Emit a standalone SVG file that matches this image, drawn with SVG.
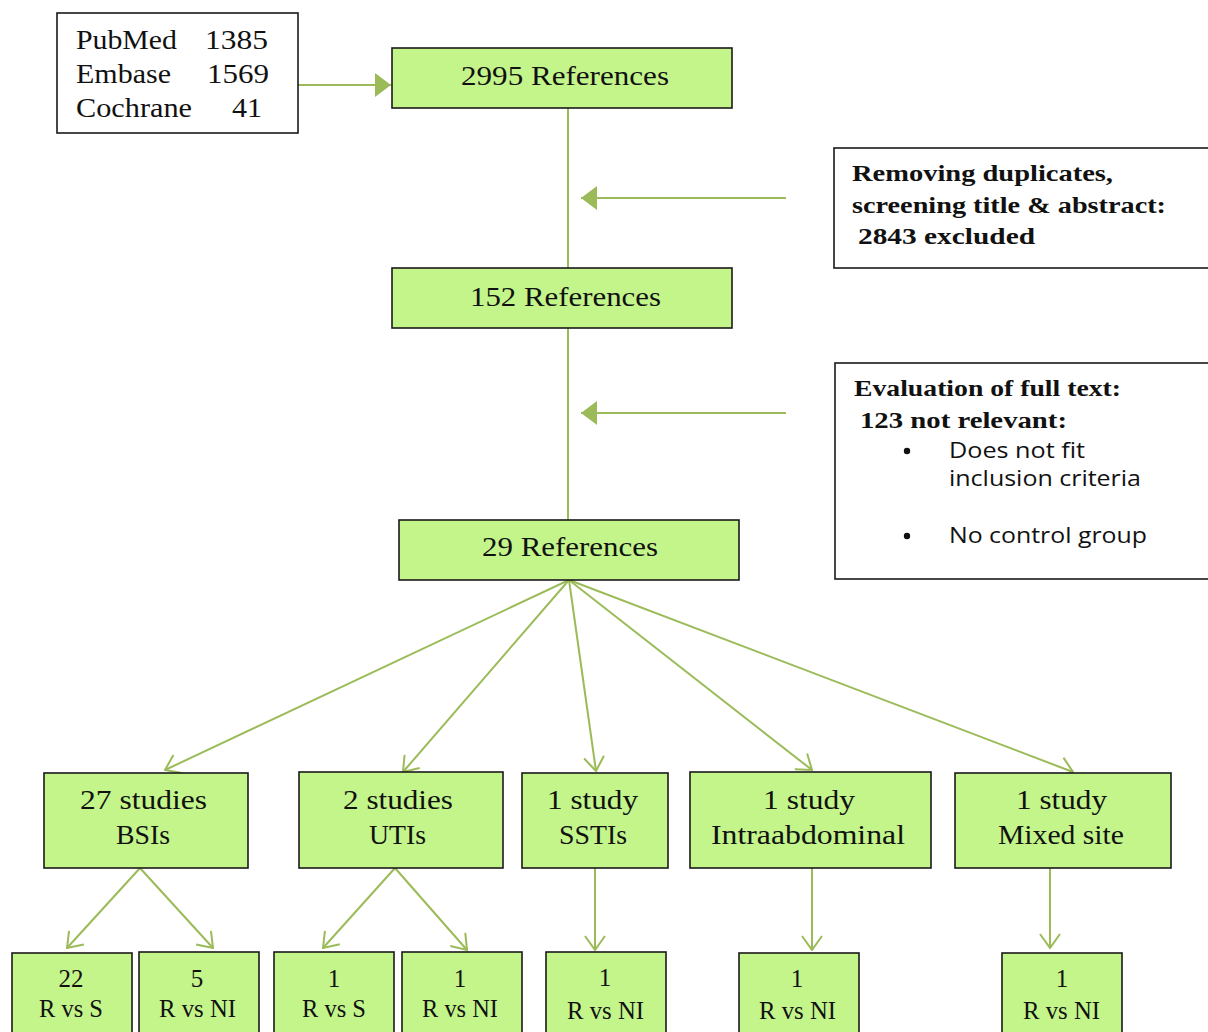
<svg xmlns="http://www.w3.org/2000/svg" width="1208" height="1032" viewBox="0 0 1208 1032">
<defs>
<marker id="fill" viewBox="0 0 16 24" refX="16" refY="12" markerWidth="16" markerHeight="24" markerUnits="userSpaceOnUse" orient="auto">
<path d="M0,0 L16,12 L0,24 Z" fill="#9bbb59"/>
</marker>
<marker id="open" viewBox="0 0 16 24" refX="15" refY="12" markerWidth="16" markerHeight="24" markerUnits="userSpaceOnUse" orient="auto">
<path d="M1,2 L15,12 L1,22" fill="none" stroke="#9bbb59" stroke-width="2"/>
</marker>
<style>
.w{fill:#fff;stroke:#1a1a1a;stroke-width:1.6}
.g{fill:#c3f58a;stroke:#1a1a1a;stroke-width:1.6}
.t{font-family:"Liberation Serif","DejaVu Serif",serif;font-size:28px;fill:#111}
.b{font-family:"Liberation Serif","DejaVu Serif",serif;font-size:24px;font-weight:bold;fill:#111}
.s{font-family:"Open Sans","Noto Sans","Liberation Sans",sans-serif;font-size:21px;fill:#111}
.m{font-family:"Liberation Serif","DejaVu Serif",serif;font-size:25px;fill:#111}
.c{stroke:#9bbb59;stroke-width:2;fill:none}
</style>
</defs>
<g id="connectors">
<line class="c" x1="298" y1="85" x2="391" y2="85" marker-end="url(#fill)"/>
<line class="c" x1="568" y1="108" x2="568" y2="268"/>
<line class="c" x1="786" y1="198" x2="581" y2="198" marker-end="url(#fill)"/>
<line class="c" x1="568" y1="328" x2="568" y2="520"/>
<line class="c" x1="786" y1="413" x2="581" y2="413" marker-end="url(#fill)"/>
<line class="c" x1="569" y1="580" x2="165" y2="770" marker-end="url(#open)"/>
<line class="c" x1="569" y1="580" x2="403" y2="772" marker-end="url(#open)"/>
<line class="c" x1="569" y1="580" x2="596" y2="771" marker-end="url(#open)"/>
<line class="c" x1="569" y1="580" x2="812" y2="770" marker-end="url(#open)"/>
<line class="c" x1="569" y1="580" x2="1073" y2="772" marker-end="url(#open)"/>
<line class="c" x1="140" y1="868" x2="67" y2="948" marker-end="url(#open)"/>
<line class="c" x1="140" y1="868" x2="213" y2="948" marker-end="url(#open)"/>
<line class="c" x1="395" y1="868" x2="323" y2="948" marker-end="url(#open)"/>
<line class="c" x1="395" y1="868" x2="467" y2="950" marker-end="url(#open)"/>
<line class="c" x1="595" y1="868" x2="595" y2="950" marker-end="url(#open)"/>
<line class="c" x1="812" y1="868" x2="812" y2="950" marker-end="url(#open)"/>
<line class="c" x1="1050" y1="868" x2="1050" y2="948" marker-end="url(#open)"/>
</g>
<g id="sources">
<rect class="w" x="57" y="13" width="241" height="120"/>
<text class="t" x="76" y="49" textLength="101" lengthAdjust="spacingAndGlyphs">PubMed</text>
<text class="t" x="205" y="49" textLength="63" lengthAdjust="spacingAndGlyphs">1385</text>
<text class="t" x="76" y="83" textLength="95" lengthAdjust="spacingAndGlyphs">Embase</text>
<text class="t" x="207" y="83" textLength="62" lengthAdjust="spacingAndGlyphs">1569</text>
<text class="t" x="76" y="117" textLength="116" lengthAdjust="spacingAndGlyphs">Cochrane</text>
<text class="t" x="232" y="117" textLength="30" lengthAdjust="spacingAndGlyphs">41</text>
</g>
<g id="ref2995">
<rect class="g" x="392" y="48" width="340" height="60"/>
<text class="t" x="461" y="85" textLength="208" lengthAdjust="spacingAndGlyphs">2995 References</text>
</g>
<g id="excl1">
<rect class="w" x="834" y="148" width="376" height="120"/>
<text class="b" x="852" y="181" textLength="261" lengthAdjust="spacingAndGlyphs">Removing duplicates,</text>
<text class="b" x="852" y="213" textLength="314" lengthAdjust="spacingAndGlyphs">screening title &amp; abstract:</text>
<text class="b" x="858" y="244" textLength="177" lengthAdjust="spacingAndGlyphs">2843 excluded</text>
</g>
<g id="ref152">
<rect class="g" x="392" y="268" width="340" height="60"/>
<text class="t" x="470" y="306" textLength="191" lengthAdjust="spacingAndGlyphs">152 References</text>
</g>
<g id="excl2">
<rect class="w" x="835" y="363" width="375" height="216"/>
<text class="b" x="854" y="396" textLength="267" lengthAdjust="spacingAndGlyphs">Evaluation of full text:</text>
<text class="b" x="860" y="428" textLength="207" lengthAdjust="spacingAndGlyphs">123 not relevant:</text>
<circle cx="907" cy="451" r="3.2" fill="#111"/>
<text class="s" x="949" y="458" textLength="136" lengthAdjust="spacingAndGlyphs">Does not fit</text>
<text class="s" x="949" y="486" textLength="192" lengthAdjust="spacingAndGlyphs">inclusion criteria</text>
<circle cx="907" cy="536" r="3.2" fill="#111"/>
<text class="s" x="949" y="543" textLength="198" lengthAdjust="spacingAndGlyphs">No control group</text>
</g>
<g id="ref29">
<rect class="g" x="399" y="520" width="340" height="60"/>
<text class="t" x="482" y="556" textLength="176" lengthAdjust="spacingAndGlyphs">29 References</text>
</g>
<g id="bsi">
<rect class="g" x="44" y="773" width="204" height="95"/>
<text class="t" x="80" y="809" textLength="127" lengthAdjust="spacingAndGlyphs">27 studies</text>
<text class="t" x="116" y="844" textLength="54" lengthAdjust="spacingAndGlyphs">BSIs</text>
</g>
<g id="uti">
<rect class="g" x="299" y="772" width="204" height="96"/>
<text class="t" x="343" y="809" textLength="110" lengthAdjust="spacingAndGlyphs">2 studies</text>
<text class="t" x="369" y="844" textLength="57" lengthAdjust="spacingAndGlyphs">UTIs</text>
</g>
<g id="ssti">
<rect class="g" x="522" y="773" width="146" height="95"/>
<text class="t" x="547" y="809" textLength="91" lengthAdjust="spacingAndGlyphs">1 study</text>
<text class="t" x="559" y="844" textLength="68" lengthAdjust="spacingAndGlyphs">SSTIs</text>
</g>
<g id="intra">
<rect class="g" x="690" y="772" width="241" height="96"/>
<text class="t" x="763" y="809" textLength="92" lengthAdjust="spacingAndGlyphs">1 study</text>
<text class="t" x="711" y="844" textLength="194" lengthAdjust="spacingAndGlyphs">Intraabdominal</text>
</g>
<g id="mixed">
<rect class="g" x="955" y="773" width="216" height="95"/>
<text class="t" x="1016" y="809" textLength="91" lengthAdjust="spacingAndGlyphs">1 study</text>
<text class="t" x="998" y="844" textLength="126" lengthAdjust="spacingAndGlyphs">Mixed site</text>
</g>
<g id="bsi-rs">
<rect class="g" x="12" y="953" width="120" height="90"/>
<text class="m" x="71" y="987" text-anchor="middle">22</text>
<text class="m" x="39" y="1017" textLength="64" lengthAdjust="spacingAndGlyphs">R vs S</text>
</g>
<g id="bsi-rni">
<rect class="g" x="139" y="952" width="120" height="90"/>
<text class="m" x="197" y="987" text-anchor="middle">5</text>
<text class="m" x="159" y="1017" textLength="77" lengthAdjust="spacingAndGlyphs">R vs NI</text>
</g>
<g id="uti-rs">
<rect class="g" x="274" y="952" width="120" height="90"/>
<text class="m" x="334" y="987" text-anchor="middle">1</text>
<text class="m" x="302" y="1017" textLength="64" lengthAdjust="spacingAndGlyphs">R vs S</text>
</g>
<g id="uti-rni">
<rect class="g" x="402" y="952" width="120" height="90"/>
<text class="m" x="460" y="987" text-anchor="middle">1</text>
<text class="m" x="422" y="1017" textLength="76" lengthAdjust="spacingAndGlyphs">R vs NI</text>
</g>
<g id="ssti-rni">
<rect class="g" x="546" y="952" width="120" height="90"/>
<text class="m" x="605" y="986" text-anchor="middle">1</text>
<text class="m" x="567" y="1019" textLength="77" lengthAdjust="spacingAndGlyphs">R vs NI</text>
</g>
<g id="intra-rni">
<rect class="g" x="739" y="953" width="120" height="90"/>
<text class="m" x="797" y="987" text-anchor="middle">1</text>
<text class="m" x="759" y="1019" textLength="77" lengthAdjust="spacingAndGlyphs">R vs NI</text>
</g>
<g id="mixed-rni">
<rect class="g" x="1002" y="953" width="120" height="90"/>
<text class="m" x="1062" y="987" text-anchor="middle">1</text>
<text class="m" x="1023" y="1019" textLength="77" lengthAdjust="spacingAndGlyphs">R vs NI</text>
</g>
</svg>
